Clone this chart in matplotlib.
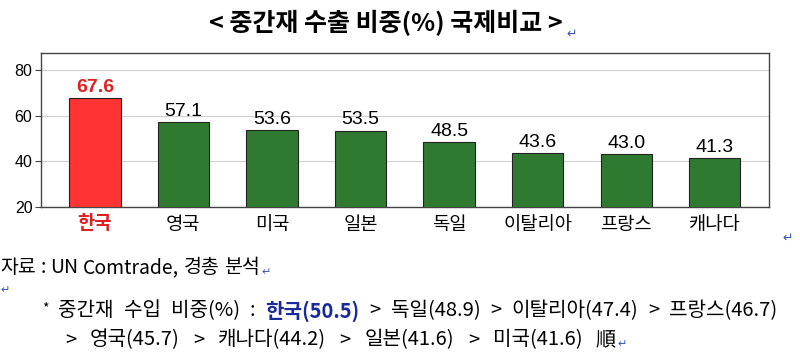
import matplotlib
matplotlib.use("Agg")
import matplotlib.pyplot as plt
from matplotlib import font_manager as fm

KR = "Noto Sans CJK KR"
names = {f.name for f in fm.fontManager.ttflist}
NUM = "Liberation Sans Narrow" if "Liberation Sans Narrow" in names else "Liberation Sans"
plt.rcParams["font.family"] = [KR, "DejaVu Sans"]

# 중간재 수출 비중(%)
countries = ["한국", "영국", "미국", "일본", "독일", "이탈리아", "프랑스", "캐나다"]
export_share = [67.6, 57.1, 53.6, 53.5, 48.5, 43.6, 43.0, 41.3]

# 중간재 수입 비중(%)
imp_countries = ["한국", "독일", "이탈리아", "프랑스", "영국", "캐나다", "일본", "미국"]
import_share = [50.5, 48.9, 47.4, 46.7, 45.7, 44.2, 41.6, 41.6]

yticks = [20, 40, 60, 80]

RED = "#ff3333"
GREEN = "#2f7a30"
BLUE = "#3355bb"

fig = plt.figure(figsize=(8, 3.58), dpi=100)
ax = fig.add_axes([0.051, 0.422, 0.91, 0.43])

colors = [RED] + [GREEN] * (len(countries) - 1)
x = range(len(countries))
ax.bar(x, export_share, width=0.58, color=colors, edgecolor="#222222", linewidth=0.8, zorder=3)
ax.set_ylim(20, 87.5)
ax.set_xlim(-0.61, len(countries) - 0.39)
ax.set_yticks(yticks)
ax.set_yticklabels([str(t) for t in yticks], fontfamily=NUM, fontsize=11.5)
ax.yaxis.grid(True, color="#d0d0d0", linewidth=0.8, zorder=0)
ax.set_xticks(list(x))
ax.set_xticklabels(countries, fontsize=13.5)
ax.get_xticklabels()[0].set_color("#e02020")
ax.get_xticklabels()[0].set_fontweight("bold")
ax.tick_params(axis="x", length=0, pad=5)
ax.tick_params(axis="y", length=4, width=0.8, color="#444444", pad=2)
for s in ax.spines.values():
    s.set_color("#444444")
    s.set_linewidth(1.0)

for i, v in enumerate(export_share):
    if i == 0:
        ax.text(i, v + 1.0, f"{v:.1f}", ha="center", va="bottom", fontsize=14,
                fontfamily=NUM, color="#e02020", fontweight="bold")
    else:
        ax.text(i, v + 1.0, f"{v:.1f}", ha="center", va="bottom", fontsize=14,
                fontfamily=NUM, color="black")

fig.text(0.482, 0.935, "< 중간재 수출 비중(%) 국제비교 >", ha="center", va="center",
         fontsize=18, fontweight="bold")
fig.text(0.708, 0.905, "↵", ha="left", va="center", fontsize=9, color=BLUE,
         fontfamily=["DejaVu Sans"])
fig.text(0.978, 0.335, "↵", ha="left", va="center", fontsize=9, color=BLUE,
         fontfamily=["DejaVu Sans"])

fig.canvas.draw()
renderer = fig.canvas.get_renderer()
W = fig.bbox.width


def write_line(x0, x1, y0, tokens, size=14.5, tail=None):
    # 토큰을 x0~x1 폭에 맞춰 균등 간격으로 배치
    made = []
    for txt, kw in tokens:
        opts = {"fontsize": size}
        opts.update(kw)
        dy = opts.pop("dy", 0)
        t = fig.text(0, y0 + dy, txt, ha="left", va="center", **opts)
        made.append((t, t.get_window_extent(renderer=renderer).width))
    total = sum(w for _, w in made)
    gap = ((x1 - x0) * W - total) / max(len(made) - 1, 1)
    xpos = x0 * W
    for t, w in made:
        t.set_x(xpos / W)
        xpos += w + gap
    if tail is not None:
        fig.text(x1 + 0.002, y0 - 0.012, tail[0], ha="left", va="center", **tail[1])


arrow = {"color": BLUE, "fontfamily": ["DejaVu Sans"], "fontsize": 8}
write_line(0.0, 0.325, 0.253,
           [("자료", {}), (":", {}), ("UN", {}), ("Comtrade,", {}), ("경총", {}), ("분석", {})],
           size=14, tail=("↵", arrow))
fig.text(0.0, 0.19, "↵", ha="left", va="center", **arrow)

parts = [f"{c}({v:.1f})" for c, v in zip(imp_countries, import_share)]
line1 = [("*", {"fontsize": 10, "dy": 0.008}), ("중간재", {}), ("수입", {}), ("비중(%)", {}),
         (":", {}), (parts[0], {"color": "#1a2a9a", "fontweight": "bold"})]
for p in parts[1:4]:
    line1 += [(">", {}), (p, {})]
write_line(0.052, 0.972, 0.132, line1)

line2 = []
for p in parts[4:]:
    line2 += [(">", {}), (p, {})]
line2.append(("順", {}))
write_line(0.081, 0.77, 0.05, line2, tail=("↵", arrow))

fig.savefig("out.png", dpi=100)
